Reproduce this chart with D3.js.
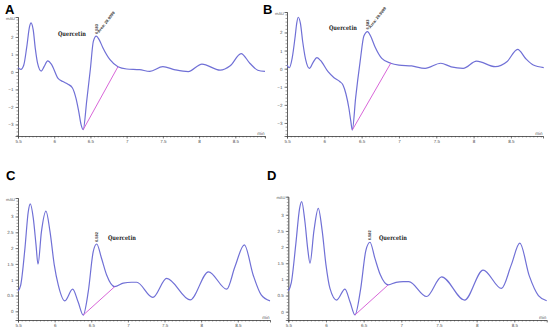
<!DOCTYPE html>
<html>
<head>
<meta charset="utf-8">
<script src="https://cdn.jsdelivr.net/npm/d3@7"></script>
<style>
  body { margin: 0; background: #fff; }
  svg { display: block; }
  svg text { text-rendering: geometricPrecision; }
</style>
</head>
<body>
<svg id="chart" width="550" height="329"></svg>
<script>
// Chromatogram key points (time in min, signal in mAU)
var timeA = [5.50,5.54,5.58,5.62,5.66,5.68,5.71,5.74,5.77,5.82,5.86,5.91,5.96,6.05,6.12,6.19,6.25,6.30,6.34,6.37,6.40,6.45,6.50,6.54,6.58,6.62,6.67,6.77,6.88,7.00,7.18,7.32,7.50,7.67,7.85,8.04,8.29,8.43,8.58,8.70,8.81,8.91];
var valA  = [0.25,0.15,0.4,1.4,2.6,2.8,2.4,1.3,0.5,0.05,0.3,0.63,0.45,-0.35,-0.55,-0.7,-0.9,-1.5,-2.3,-3.0,-3.3,-1.6,0.2,1.75,2.05,1.85,1.4,0.7,0.3,0.17,0.13,0.03,0.3,0.12,0.02,0.45,0.1,0.35,1.05,0.5,0.1,0.03];

var timeB = [5.50,5.53,5.57,5.61,5.63,5.65,5.68,5.71,5.75,5.80,5.85,5.90,5.95,6.05,6.13,6.21,6.25,6.29,6.33,6.355,6.375,6.42,6.48,6.53,6.58,6.62,6.68,6.77,6.89,7.00,7.17,7.35,7.56,7.70,7.86,8.04,8.29,8.45,8.59,8.70,8.80,8.94];
var valB  = [0.2,0.05,0.6,1.8,2.5,2.84,2.5,1.5,0.5,0.02,0.35,0.61,0.45,-0.17,-0.5,-0.72,-0.9,-1.4,-2.2,-2.9,-3.39,-1.6,0.4,1.8,2.05,1.8,1.2,0.57,0.3,0.2,0.15,0.02,0.3,0.1,0.02,0.42,0.11,0.4,1.07,0.55,0.2,0.06];

var timeC = [5.50,5.537,5.595,5.64,5.668,5.709,5.746,5.773,5.82,5.882,5.937,5.995,6.05,6.14,6.246,6.32,6.39,6.459,6.527,6.574,6.64,6.71,6.82,6.937,7.05,7.12,7.34,7.53,7.85,8.10,8.35,8.46,8.59,8.71,8.82,8.94];
var valC  = [0.64,0.83,2.0,3.15,3.4,2.94,2.1,1.49,2.52,3.17,2.52,1.47,0.83,0.33,0.7,0.3,-0.12,0.62,1.89,2.13,1.68,1.15,0.78,0.89,0.92,0.92,0.44,1.04,0.36,1.25,0.7,1.4,2.1,1.15,0.52,0.33];

var timeD = [5.50,5.54,5.60,5.65,5.678,5.72,5.76,5.788,5.84,5.898,5.95,6.00,6.053,6.142,6.252,6.32,6.385,6.46,6.53,6.584,6.65,6.72,6.826,6.93,7.025,7.10,7.335,7.535,7.84,8.086,8.33,8.46,8.573,8.70,8.82,8.93];
var valD  = [0.64,0.9,2.1,3.2,3.41,2.8,1.9,1.5,2.5,3.2,2.5,1.45,0.72,0.36,0.7,0.3,-0.1,0.7,1.9,2.15,1.65,1.15,0.83,0.91,0.93,0.93,0.47,1.08,0.36,1.29,0.72,1.45,2.12,1.1,0.5,0.34];

// Integration baselines under the quercetin peak (start, end)
var baseA = [[6.40,-3.3],[6.88,0.3]];
var baseB = [[6.375,-3.39],[6.89,0.3]];
var baseC = [[6.39,-0.12],[6.82,0.78]];
var baseD = [[6.385,-0.1],[6.826,0.83]];

// Tick values
var xTicks = [5.5,6,6.5,7,7.5,8,8.5];
var yTicksAB = [-3,-2,-1,0,1,2];
var yTicksCD = [0,0.5,1,1.5,2,2.5,3];

// Peak annotations
var peakTimeAB = "6.583";
var peakAreaAB = "Area: 29.9099";
var peakTimeCD = "6.582";
var compound = "Quercetin";

var svg = d3.select("#chart");

// Panel layout (pixel boxes and axis domains)
var panels = [
  {letter:"A", lx:5, ly:14, x0:18, x1:265, xMax:8.91, yTop:17, yBot:136, yMin:-3.66, yMax:3.14,
   t:timeA, v:valA, base:baseA, yTicks:yTicksAB, minorY:0.2, qx:58, qy:36, pt:peakTimeAB, area:peakAreaAB, pk:6.58, pkv:2.05},
  {letter:"B", lx:263, ly:14, x0:287, x1:543, xMax:8.93, yTop:12, yBot:136, yMin:-3.72, yMax:3.13,
   t:timeB, v:valB, base:baseB, yTicks:yTicksAB, minorY:0.2, qx:329, qy:30, pt:peakTimeAB, area:peakAreaAB, pk:6.58, pkv:2.05},
  {letter:"C", lx:6, ly:180, x0:18, x1:270, xMax:8.94, yTop:198, yBot:320, yMin:-0.275, yMax:3.585,
   t:timeC, v:valC, base:baseC, yTicks:yTicksCD, minorY:0.1, qx:108, qy:240, pt:peakTimeCD, area:null, pk:6.574, pkv:2.13},
  {letter:"D", lx:267, ly:180, x0:288.3, x1:546.7, xMax:8.93, yTop:196.7, yBot:320, yMin:-0.257, yMax:3.56,
   t:timeD, v:valD, base:baseD, yTicks:yTicksCD, minorY:0.1, qx:379, qy:240, pt:peakTimeCD, area:null, pk:6.584, pkv:2.15}
];

panels.forEach(function(p) {

    // Scales
    var x = d3.scaleLinear().domain([5.5, p.xMax]).range([p.x0, p.x1]);
    var y = d3.scaleLinear().domain([p.yMin, p.yMax]).range([p.yBot, p.yTop]);

    var g = svg.append("g");

    // Minor ticks on x
    var minorX = d3.range(5.5, p.xMax, 0.05);
    g.append("g")
        .attr("transform", "translate(0," + p.yBot + ")")
        .call(d3.axisBottom(x).tickValues(minorX).tickSize(1.5).tickFormat(""))
        .call(function(a) { a.selectAll("line,path").attr("stroke", "#444").attr("stroke-width", 0.5); });

    // Major x axis
    g.append("g")
        .attr("transform", "translate(0," + p.yBot + ")")
        .call(d3.axisBottom(x).tickValues(xTicks).tickSize(2.5).tickPadding(1.5).tickFormat(d3.format("")))
        .call(function(a) {
            a.select(".domain").attr("stroke", "#444").attr("stroke-width", 0.7);
            a.selectAll("line").attr("stroke", "#444").attr("stroke-width", 0.6);
            a.selectAll("text").attr("font-size", 4.5).attr("fill", "#555").attr("font-family", "Liberation Sans");
        });

    // Minor ticks on y
    var minorYv = d3.range(Math.ceil(p.yMin / p.minorY) * p.minorY, p.yMax, p.minorY);
    g.append("g")
        .attr("transform", "translate(" + p.x0 + ",0)")
        .call(d3.axisLeft(y).tickValues(minorYv).tickSize(1.5).tickFormat(""))
        .call(function(a) { a.selectAll("line,path").attr("stroke", "#444").attr("stroke-width", 0.5); });

    // Major y axis
    g.append("g")
        .attr("transform", "translate(" + p.x0 + ",0)")
        .call(d3.axisLeft(y).tickValues(p.yTicks).tickSize(2.5).tickPadding(2).tickFormat(d3.format("")))
        .call(function(a) {
            a.select(".domain").attr("stroke", "#444").attr("stroke-width", 0.7);
            a.selectAll("line").attr("stroke", "#444").attr("stroke-width", 0.6);
            a.selectAll("text").attr("font-size", 4.5).attr("fill", "#555").attr("font-family", "Liberation Sans");
        });

    // Axis units
    g.append("text").attr("x", p.x0 - 3).attr("y", p.yTop + 2.5)
        .attr("text-anchor", "end").attr("font-size", 4).attr("fill", "#555")
        .attr("font-family", "Liberation Sans").text("mAU");
    g.append("text").attr("x", p.x1 - 4).attr("y", p.yBot - 1.5)
        .attr("text-anchor", "middle").attr("font-size", 4.5).attr("fill", "#555")
        .attr("font-family", "Liberation Sans").text("min");

    // Signal trace
    var pts = p.t.map(function(d, i) { return [d, p.v[i]]; });
    var line = d3.line()
        .x(function(d) { return x(d[0]); })
        .y(function(d) { return y(d[1]); })
        .curve(d3.curveMonotoneX);
    g.append("path")
        .datum(pts)
        .attr("d", line)
        .attr("fill", "none")
        .attr("stroke", "#7070d6")
        .attr("stroke-width", 1.2);

    // Integration baseline
    g.append("path")
        .datum(p.base)
        .attr("d", d3.line().x(function(d) { return x(d[0]); }).y(function(d) { return y(d[1]); }))
        .attr("stroke", "#d455d4")
        .attr("stroke-width", 0.9)
        .attr("fill", "none");

    // Compound label, squeezed to the width seen in the figure
    g.append("text").attr("x", p.qx).attr("y", p.qy)
        .attr("font-family", "'DejaVu Serif'").attr("font-weight", "bold")
        .attr("font-size", 6.3).attr("fill", "#222")
        .attr("textLength", 28).attr("lengthAdjust", "spacingAndGlyphs")
        .text(compound);

    // Retention time label (vertical) above the peak
    var px = x(p.pk), py = y(p.pkv) - 2;
    g.append("text")
        .attr("transform", "translate(" + (px + 1.5) + "," + py + ") rotate(-90)")
        .attr("font-family", "Liberation Sans").attr("font-weight", "bold")
        .attr("font-size", 4).attr("fill", "#333").text(p.pt);

    if (p.area) {
        g.append("text")
            .attr("transform", "translate(" + (px + 3) + "," + (py - 1) + ") rotate(-52)")
            .attr("font-family", "Liberation Sans").attr("font-weight", "bold")
            .attr("font-size", 4).attr("fill", "#333").text(p.area);
    }

    // Panel letter
    svg.append("text").attr("x", p.lx).attr("y", p.ly)
        .attr("font-family", "Liberation Sans").attr("font-weight", "bold")
        .attr("font-size", 13).attr("fill", "#000").text(p.letter);
});
</script>
</body>
</html>
